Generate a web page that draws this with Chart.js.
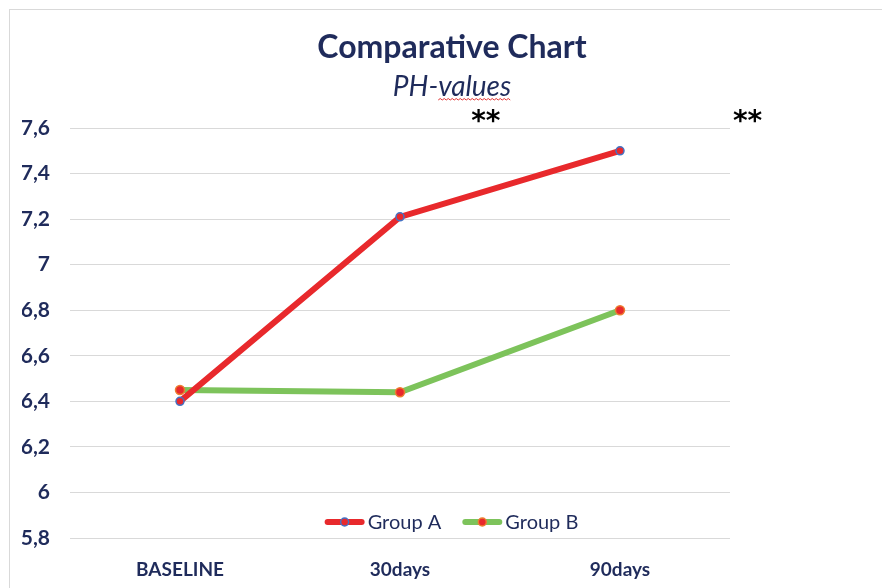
<!DOCTYPE html>
<html>
<head>
<meta charset="utf-8">
<script src="https://cdn.jsdelivr.net/npm/chart.js@4.4.1/dist/chart.umd.min.js"></script>
<style>
    html, body { margin: 0; padding: 0; background: #fff; overflow: hidden; }
    #wrap { position: relative; width: 882px; height: 588px; }
    #frame { position: absolute; left: 9px; top: 9px; width: 900px; height: 600px; border: 1px solid #d9d9d9; box-sizing: border-box; }
    canvas { position: absolute; left: 0; top: 0; }
</style>
</head>
<body>
<div id="wrap">
    <div id="frame"></div>
    <canvas id="chart" width="882" height="588"></canvas>
</div>
<script>
const LABELS = ['BASELINE', '30days', '90days'];
const GROUP_A = [6.40, 7.21, 7.50];
const GROUP_B = [6.45, 6.44, 6.80];
const Y_MIN = 5.8;
const Y_MAX = 7.6;
const Y_STEP = 0.2;
// significance marks: [category position, y value, text]
const MARKS = [[1.39, 7.625, '**'], [2.58, 7.625, '**']];

const NAVY = '#1f2b5b';
const FONT = 'Lato, "Open Sans", sans-serif';

const starsPlugin = {
    id: 'stars',
    afterDraw(chart) {
        const ctx = chart.ctx;
        const x = chart.scales.x, y = chart.scales.y;
        ctx.save();
        ctx.fillStyle = '#000';
        ctx.font = 'bold 28px "DejaVu Sans", sans-serif';
        ctx.textAlign = 'center';
        ctx.textBaseline = 'middle';
        MARKS.forEach(function (m) {
            ctx.fillText(m[2], x.getPixelForValue(m[0]), y.getPixelForValue(m[1]));
        });
        // spell-check squiggle under "values"
        const cx = (22 + chart.width) / 2;
        ctx.font = 'italic 28px ' + FONT;
        const full = ctx.measureText('PH-values').width;
        const pre = ctx.measureText('PH-').width;
        let sx = cx - full / 2 + pre, ex = cx + full / 2;
        ctx.strokeStyle = '#e03030';
        ctx.lineWidth = 1;
        ctx.beginPath();
        let up = true;
        ctx.moveTo(sx, 100);
        for (let px = sx + 2; px <= ex; px += 2) {
            ctx.lineTo(px, up ? 98.5 : 100);
            up = !up;
        }
        ctx.stroke();
        ctx.restore();
    }
};

const legendPlugin = {
    id: 'insideLegend',
    afterDatasetsDraw(chart) {
        const ctx = chart.ctx;
        const area = chart.chartArea;
        ctx.save();
        ctx.font = '20px ' + FONT;
        ctx.textBaseline = 'middle';
        const items = chart.data.datasets.map(function (ds) {
            return { ds: ds, w: 40 + 4 + ctx.measureText(ds.label).width };
        });
        const gap = 20;
        const total = items.reduce(function (s, it) { return s + it.w; }, 0) + gap * (items.length - 1);
        let x = (22 + chart.width) / 2 - total / 2;
        const y = area.bottom - 16;
        items.forEach(function (it) {
            const ds = it.ds;
            ctx.strokeStyle = ds.borderColor;
            ctx.lineWidth = 6;
            ctx.lineCap = 'round';
            ctx.beginPath();
            ctx.moveTo(x + 3, y);
            ctx.lineTo(x + 37, y);
            ctx.stroke();
            ctx.beginPath();
            ctx.arc(x + 20, y, 4, 0, Math.PI * 2);
            ctx.fillStyle = ds.pointBackgroundColor;
            ctx.fill();
            ctx.lineWidth = 1.5;
            ctx.strokeStyle = ds.pointBorderColor;
            ctx.stroke();
            ctx.fillStyle = NAVY;
            ctx.fillText(ds.label, x + 43, y + 1);
            x += it.w + gap;
        });
        ctx.restore();
    }
};

new Chart(document.getElementById('chart'), {
    type: 'line',
    data: {
        labels: LABELS,
        datasets: [
            {
                label: 'Group A',
                data: GROUP_A,
                borderColor: '#e8292c',
                borderWidth: 6,
                pointRadius: 4,
                pointBorderWidth: 1.5,
                pointBackgroundColor: '#e8292c',
                pointBorderColor: '#4472c4',
                tension: 0
            },
            {
                label: 'Group B',
                data: GROUP_B,
                borderColor: '#7dc35b',
                borderWidth: 6,
                pointRadius: 4.5,
                pointBorderWidth: 1.5,
                pointBackgroundColor: '#e8292c',
                pointBorderColor: '#ed7d31',
                tension: 0
            }
        ]
    },
    options: {
        responsive: false,
        animation: false,
        layout: { padding: { left: 22, top: 9, right: 0, bottom: 0 } },
        plugins: {
            legend: { display: false },
            tooltip: { enabled: false },
            title: {
                display: true,
                text: 'Comparative Chart',
                color: NAVY,
                font: { family: FONT, size: 32, weight: 'bold' },
                padding: { top: 19, bottom: 4 }
            },
            subtitle: {
                display: true,
                text: 'PH-values',
                color: NAVY,
                font: { family: FONT, size: 28, style: 'italic' },
                padding: { top: 0, bottom: 24 }
            }
        },
        scales: {
            x: {
                offset: true,
                grid: { display: false, drawTicks: false },
                border: { display: false },
                afterFit(scale) { scale.height = 50; },
                ticks: {
                    color: NAVY,
                    font: { family: FONT, size: 19, weight: 'bold' },
                    padding: 20
                }
            },
            y: {
                min: Y_MIN,
                max: Y_MAX,
                grid: { color: '#d9d9d9', lineWidth: 1, drawTicks: false },
                border: { display: false },
                afterFit(scale) { scale.width = 48; },
                ticks: {
                    stepSize: Y_STEP,
                    color: NAVY,
                    padding: 20,
                    font: { family: FONT, size: 21, weight: 'bold' },
                    callback: function (v) {
                        return (Math.round(v * 10) / 10).toString().replace('.', ',');
                    }
                }
            },
            yRight: {
                position: 'right',
                display: true,
                grid: { display: false, drawTicks: false },
                border: { display: false },
                ticks: { display: false },
                afterFit(scale) { scale.width = 152; }
            }
        }
    },
    plugins: [legendPlugin, starsPlugin]
});
</script>
</body>
</html>
